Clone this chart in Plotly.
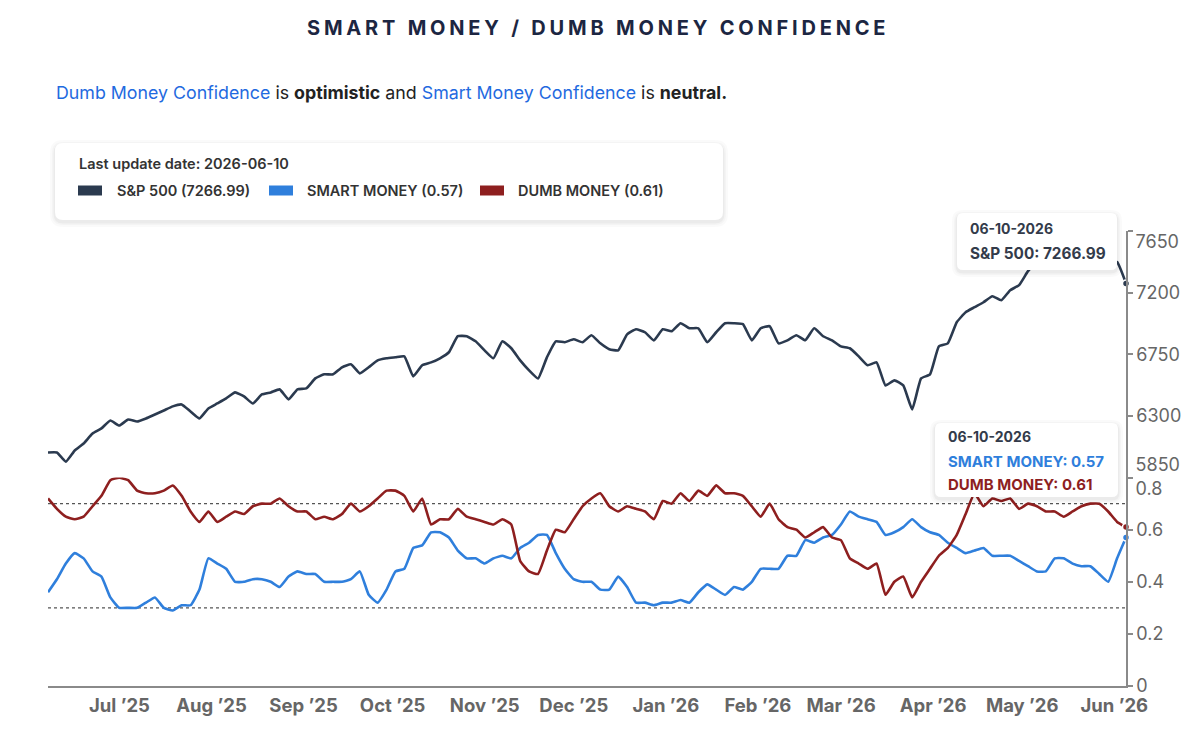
import pandas as pd
import plotly.graph_objects as go

# ---- data (one point every 3 days) ----
dates = pd.date_range(end="2026-06-10", periods=122, freq="3D")

sp500 = [6033, 6033, 5967, 6048, 6099, 6172, 6209, 6267, 6230, 6274,
         6260, 6282, 6311, 6340, 6370, 6384, 6333, 6282, 6355, 6391,
         6428, 6472, 6443, 6391, 6457, 6472, 6494, 6421, 6494, 6501,
         6574, 6604, 6604, 6655, 6677, 6611, 6655, 6706, 6721, 6728,
         6735, 6589, 6670, 6691, 6721, 6765, 6882, 6882, 6845, 6779,
         6721, 6845, 6794, 6706, 6633, 6574, 6728, 6845, 6838, 6860,
         6838, 6889, 6830, 6787, 6779, 6896, 6933, 6911, 6852, 6933,
         6918, 6977, 6940, 6940, 6838, 6911, 6977, 6977, 6970, 6852,
         6940, 6955, 6830, 6852, 6889, 6852, 6940, 6882, 6852, 6808,
         6794, 6735, 6670, 6691, 6523, 6560, 6523, 6348, 6574, 6604,
         6808, 6830, 6984, 7057, 7094, 7130, 7174, 7145, 7218, 7255,
         7357, 7423, 7452, 7409, 7379, 7423, 7452, 7474, 7460, 7438,
         7423, 7266.99]

smart_money = [0.36, 0.41, 0.47, 0.51, 0.49, 0.44, 0.42, 0.34, 0.30, 0.30,
               0.30, 0.32, 0.34, 0.30, 0.29, 0.31, 0.31, 0.37, 0.49, 0.47,
               0.45, 0.40, 0.40, 0.41, 0.41, 0.40, 0.38, 0.42, 0.44, 0.43,
               0.43, 0.40, 0.40, 0.40, 0.41, 0.44, 0.35, 0.32, 0.37, 0.44,
               0.45, 0.53, 0.54, 0.59, 0.59, 0.57, 0.52, 0.49, 0.49, 0.47,
               0.49, 0.50, 0.49, 0.53, 0.55, 0.58, 0.58, 0.51, 0.45, 0.41,
               0.40, 0.40, 0.37, 0.37, 0.42, 0.38, 0.32, 0.32, 0.31, 0.32,
               0.32, 0.33, 0.32, 0.36, 0.39, 0.37, 0.35, 0.38, 0.37, 0.40,
               0.45, 0.45, 0.45, 0.50, 0.50, 0.56, 0.55, 0.57, 0.58, 0.62,
               0.67, 0.65, 0.64, 0.63, 0.58, 0.59, 0.61, 0.64, 0.61, 0.59,
               0.58, 0.55, 0.53, 0.51, 0.52, 0.53, 0.50, 0.50, 0.50, 0.48,
               0.46, 0.44, 0.44, 0.49, 0.49, 0.47, 0.46, 0.46, 0.43, 0.40,
               0.49, 0.57]

dumb_money = [0.72, 0.68, 0.65, 0.64, 0.65, 0.69, 0.73, 0.79, 0.80, 0.79,
              0.75, 0.74, 0.74, 0.75, 0.77, 0.73, 0.67, 0.63, 0.67, 0.63,
              0.65, 0.67, 0.66, 0.69, 0.70, 0.70, 0.72, 0.69, 0.67, 0.67,
              0.64, 0.65, 0.64, 0.66, 0.70, 0.67, 0.69, 0.72, 0.75, 0.75,
              0.73, 0.67, 0.72, 0.62, 0.64, 0.64, 0.68, 0.65, 0.64, 0.63,
              0.62, 0.64, 0.62, 0.48, 0.44, 0.43, 0.52, 0.60, 0.59, 0.64,
              0.69, 0.72, 0.74, 0.69, 0.67, 0.69, 0.68, 0.67, 0.64, 0.71,
              0.70, 0.74, 0.71, 0.75, 0.73, 0.77, 0.74, 0.74, 0.73, 0.69,
              0.65, 0.70, 0.64, 0.61, 0.60, 0.57, 0.59, 0.61, 0.57, 0.56,
              0.49, 0.47, 0.45, 0.47, 0.35, 0.40, 0.42, 0.34, 0.40, 0.45,
              0.50, 0.53, 0.58, 0.66, 0.74, 0.69, 0.72, 0.71, 0.72, 0.68,
              0.70, 0.69, 0.67, 0.67, 0.65, 0.67, 0.69, 0.70, 0.70, 0.67,
              0.63, 0.61]

month_ticks = pd.date_range("2025-07-01", "2026-06-01", freq="MS")
month_labels = ["Jul ’25", "Aug ’25", "Sep ’25", "Oct ’25", "Nov ’25", "Dec ’25",
                "Jan ’26", "Feb ’26", "Mar ’26", "Apr ’26", "May ’26", "Jun ’26"]

sp_ticks = [5850, 6300, 6750, 7200, 7650]
conf_ticks = [0, 0.2, 0.4, 0.6, 0.8]
thresholds = [0.7, 0.3]

SP_COLOR = "#2b3a4f"
SMART_COLOR = "#2f7fdc"
DUMB_COLOR = "#8e1f1f"
BLUE_TEXT = "#1f6ae0"
FONT = "Inter"

# ---- page geometry (the page body adds an 8px margin, so the figure is 8px smaller) ----
OFF = 8
W, H = 1192, 736
L, R, T, B = 40, 74, 223, 58
PW, PH = W - L - R, H - T - B


def px(x):
    # screen x -> paper x
    return (x - OFF - L) / PW


def py(y):
    # screen y -> paper y
    return (H - B - (y - OFF)) / PH


def rounded_box(x0, y0, x1, y1, r):
    return (f"M {px(x0 + r)},{py(y0)} L {px(x1 - r)},{py(y0)} "
            f"Q {px(x1)},{py(y0)} {px(x1)},{py(y0 + r)} L {px(x1)},{py(y1 - r)} "
            f"Q {px(x1)},{py(y1)} {px(x1 - r)},{py(y1)} L {px(x0 + r)},{py(y1)} "
            f"Q {px(x0)},{py(y1)} {px(x0)},{py(y1 - r)} L {px(x0)},{py(y0 + r)} "
            f"Q {px(x0)},{py(y0)} {px(x0 + r)},{py(y0)} Z")


def card(x0, y0, x1, y1, r):
    out = []
    for grow, alpha in [(5, 0.018), (3, 0.025), (1.5, 0.035)]:
        out.append(dict(type="path", xref="paper", yref="paper", layer="above",
                        path=rounded_box(x0 - grow, y0 - grow + 2, x1 + grow, y1 + grow + 2, r + grow),
                        fillcolor=f"rgba(0,0,0,{alpha})", line=dict(width=0)))
    out.append(dict(type="path", xref="paper", yref="paper", layer="above",
                    path=rounded_box(x0, y0, x1, y1, r),
                    fillcolor="white", line=dict(width=0)))
    return out


fig = go.Figure()

line_style = dict(width=2.6, shape="spline", smoothing=0.4)
fig.add_trace(go.Scatter(x=dates, y=sp500, mode="lines", name="S&P 500",
                         line=dict(color=SP_COLOR, **line_style), yaxis="y"))
fig.add_trace(go.Scatter(x=dates, y=smart_money, mode="lines", name="SMART MONEY",
                         line=dict(color=SMART_COLOR, **line_style), yaxis="y2"))
fig.add_trace(go.Scatter(x=dates, y=dumb_money, mode="lines", name="DUMB MONEY",
                         line=dict(color=DUMB_COLOR, **line_style), yaxis="y2"))

# last-point markers (each also carries one of the helper label axes)
for ser, col, ax in [(sp500, SP_COLOR, "y3"), (dumb_money, DUMB_COLOR, "y5"),
                     (smart_money, SMART_COLOR, "y2")]:
    fig.add_trace(go.Scatter(x=[dates[-1]], y=[ser[-1]], mode="markers", yaxis=ax,
                             marker=dict(size=7, color=col, line=dict(color="white", width=1.5)),
                             cliponaxis=False, showlegend=False))
# invisible carrier so the bottom S&P label axis is drawn
fig.add_trace(go.Scatter(x=[dates[0]], y=[sp500[0]], mode="markers", yaxis="y4",
                         marker=dict(size=1, opacity=0), showlegend=False))

axis_line = dict(showline=True, linecolor="#8a8a8a", linewidth=1.5, showgrid=False, zeroline=False)
tick_font = dict(family=FONT, size=18, color="#666666")
helper = dict(side="right", anchor="x", showgrid=False, zeroline=False, showline=False,
              ticks="outside", ticklen=5, tickcolor="rgba(0,0,0,0)", tickfont=tick_font)

fig.update_layout(
    width=W, height=H,
    margin=dict(l=L, r=R, t=T, b=B, autoexpand=False),
    paper_bgcolor="white", plot_bgcolor="white",
    showlegend=False, hovermode=False,
    xaxis=dict(**axis_line, type="date", range=[dates[0], dates[-1]], anchor="y2",
               tickvals=month_ticks, ticktext=month_labels, ticks="",
               ticklabelshift=15, ticklabelstandoff=2,
               tickfont=dict(family=FONT, size=18.5, color="#666666", weight=700)),
    yaxis=dict(**axis_line, domain=[0.458, 1], range=[sp_ticks[0], sp_ticks[-1]], side="right",
               anchor="x", tickvals=sp_ticks, ticktext=[""] + [str(v) for v in sp_ticks[1:-1]] + [""],
               ticks="outside", ticklen=5, tickcolor="#8a8a8a", tickwidth=1.5, tickfont=tick_font),
    yaxis2=dict(**axis_line, domain=[0, 0.458], range=[conf_ticks[0], conf_ticks[-1]], side="right",
                anchor="x", tickvals=conf_ticks, ticktext=["0", "0.2", "0.4", "0.6", ""],
                ticks="outside", ticklen=5, tickcolor="#8a8a8a", tickwidth=1.5, tickfont=tick_font),
    # edge labels nudged inward so they do not collide (positive shift = down here)
    yaxis3=dict(**helper, overlaying="y", range=[sp_ticks[0], sp_ticks[-1]],
                tickvals=[sp_ticks[-1]], ticktext=[str(sp_ticks[-1])], ticklabelshift=11),
    yaxis4=dict(**helper, overlaying="y", range=[sp_ticks[0], sp_ticks[-1]],
                tickvals=[sp_ticks[0]], ticktext=[str(sp_ticks[0])], ticklabelshift=-13),
    yaxis5=dict(**helper, overlaying="y2", range=[conf_ticks[0], conf_ticks[-1]],
                tickvals=[conf_ticks[-1]], ticktext=[str(conf_ticks[-1])], ticklabelshift=11),
)

shapes = []
for level in thresholds:
    shapes.append(dict(type="line", xref="paper", x0=0, x1=1, yref="y2", y0=level, y1=level,
                       layer="below", line=dict(color="#555555", width=1.2, dash="3px,3px")))

# legend card
shapes += card(55, 143, 723, 220, 8)
for x0, col in [(78, SP_COLOR), (269, SMART_COLOR), (480, DUMB_COLOR)]:
    shapes.append(dict(type="rect", xref="paper", yref="paper", layer="above",
                       x0=px(x0), x1=px(x0 + 24), y0=py(185.5), y1=py(195.5),
                       fillcolor=col, line=dict(width=0)))

# tooltips
shapes += card(957, 213, 1117, 270, 6)
shapes += card(935, 423, 1118, 497, 6)
fig.update_layout(shapes=shapes)

last_day = dates[-1].strftime("%m-%d-%Y")
annotations = [
    dict(text='<span style="letter-spacing:3.8px">SMART MONEY / DUMB MONEY CONFIDENCE</span>',
         x=px(598), y=py(28), xanchor="center", yanchor="middle",
         font=dict(family=FONT, size=20, color="#1c2642", weight=700)),
    dict(text=(f'<span style="color:{BLUE_TEXT}">Dumb Money Confidence</span> is <b>optimistic</b> and '
               f'<span style="color:{BLUE_TEXT}">Smart Money Confidence</span> is <b>neutral.</b>'),
         x=px(54), y=py(93), xanchor="left", yanchor="middle",
         font=dict(family=FONT, size=17.8, color="#222222")),
    dict(text="Last update date: 2026-06-10", x=px(77), y=py(163), xanchor="left", yanchor="middle",
         font=dict(family=FONT, size=14.5, color="#333333", weight=600)),
    dict(text=f"S&P 500 ({sp500[-1]:.2f})", x=px(115), y=py(190), xanchor="left", yanchor="middle",
         font=dict(family=FONT, size=14.5, color="#333333", weight=600)),
    dict(text=f"SMART MONEY ({smart_money[-1]:.2f})", x=px(305), y=py(190), xanchor="left",
         yanchor="middle", font=dict(family=FONT, size=14.5, color="#333333", weight=600)),
    dict(text=f"DUMB MONEY ({dumb_money[-1]:.2f})", x=px(516), y=py(190), xanchor="left",
         yanchor="middle", font=dict(family=FONT, size=14.5, color="#333333", weight=600)),
    dict(text=last_day, x=px(968), y=py(228), xanchor="left", yanchor="middle",
         font=dict(family=FONT, size=14, color="#333b4a", weight=700)),
    dict(text=f"S&P 500: {sp500[-1]:.2f}", x=px(968), y=py(253), xanchor="left", yanchor="middle",
         font=dict(family=FONT, size=15.3, color="#333b4a", weight=700)),
    dict(text=last_day, x=px(946), y=py(436), xanchor="left", yanchor="middle",
         font=dict(family=FONT, size=14, color="#333b4a", weight=700)),
    dict(text=f"SMART MONEY: {smart_money[-1]:.2f}", x=px(946), y=py(461), xanchor="left",
         yanchor="middle", font=dict(family=FONT, size=15, color=SMART_COLOR, weight=700)),
    dict(text=f"DUMB MONEY: {dumb_money[-1]:.2f}", x=px(946), y=py(484), xanchor="left",
         yanchor="middle", font=dict(family=FONT, size=15, color=DUMB_COLOR, weight=700)),
]
for a in annotations:
    a.update(xref="paper", yref="paper", showarrow=False)
fig.update_layout(annotations=annotations)

fig.write_html("out.html")
